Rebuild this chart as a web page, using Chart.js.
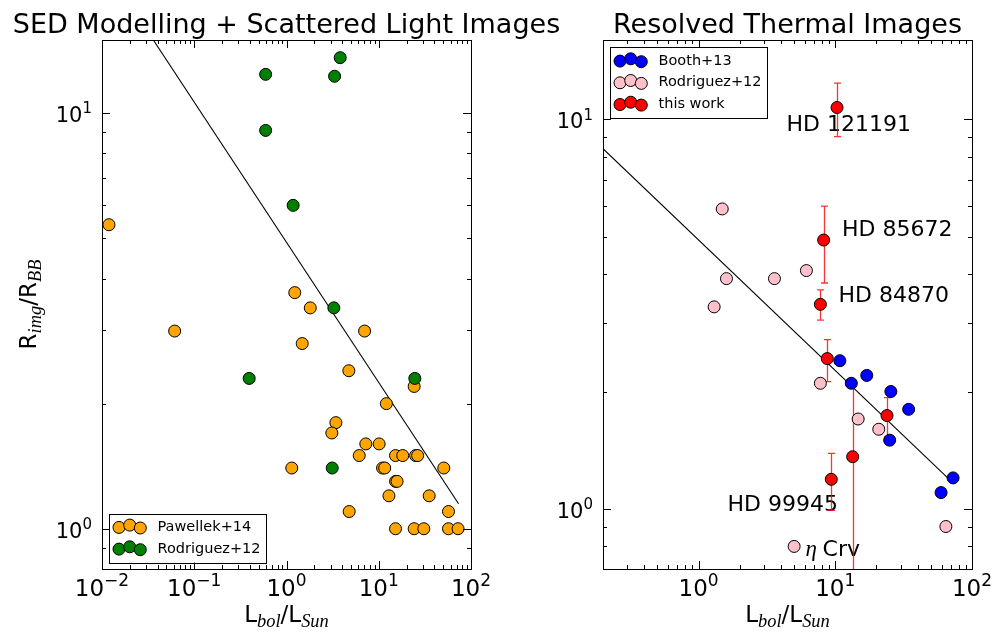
<!DOCTYPE html>
<html>
<head>
<meta charset="utf-8">
<script src="https://cdn.jsdelivr.net/npm/chart.js@4.4.0/dist/chart.umd.min.js"></script>
<style>
  html, body { margin: 0; padding: 0; background: #fff; }
  #wrap { position: relative; width: 992px; height: 632px; }
  .box { position: absolute; top: 0; height: 632px; }
</style>
</head>
<body>
<div id="wrap">
  <div class="box" style="left:0;width:600px"><canvas id="sed"></canvas></div>
  <div class="box" style="left:496px;width:496px"><canvas id="thermal"></canvas></div>
</div>
<script>
// left panel: SED modelling + scattered light
const pawellekL = [0.0119, 0.0613, 1.23, 1.81, 7.02, 1.48, 4.74, 24.2, 12.1, 3.43, 3.10, 7.24, 10.1, 6.14, 15.2, 18.2, 25.1, 26.4, 1.14, 11.0, 11.6, 50.7, 15.2, 15.8, 12.9, 35.2, 4.78, 57.0, 15.2, 24.2, 30.8, 57.0, 72.4];
const pawellekR = [5.39, 2.99, 3.70, 3.40, 2.99, 2.79, 2.40, 2.20, 2.00, 1.80, 1.70, 1.60, 1.60, 1.50, 1.50, 1.50, 1.50, 1.50, 1.40, 1.40, 1.40, 1.40, 1.30, 1.30, 1.20, 1.20, 1.10, 1.10, 1.00, 1.00, 1.00, 1.00, 1.00];
const rodSedL = [0.594, 3.82, 3.32, 0.594, 1.18, 3.26, 0.394, 24.6, 3.13];
const rodSedR = [12.4, 13.6, 12.27, 9.09, 6.0, 3.40, 2.30, 2.30, 1.40];
const sedFitL = [0.036, 73.3];
const sedFitR = [15.0, 1.148];

// right panel: resolved thermal images
const boothL = [10.8, 13.1, 17.0, 25.5, 34.4, 25.0, 72.7, 59.4];
const boothR = [2.40, 2.10, 2.20, 2.00, 1.80, 1.50, 1.20, 1.10];
const rodThL = [1.49, 6.15, 1.60, 3.59, 1.30, 7.78, 14.7, 20.8, 64.4, 5.0];
const rodThR = [5.89, 4.09, 3.90, 3.90, 3.30, 2.10, 1.70, 1.60, 0.90, 0.80];
const workL = [10.3, 8.22, 7.78, 8.74, 23.9, 13.4, 9.35];
const workR = [10.73, 4.90, 3.35, 2.43, 1.735, 1.36, 1.19];
const workLo = [9.03, 3.80, 3.05, 2.12, 1.53, 0.5, 0.99];
const workHi = [12.4, 5.99, 3.65, 2.72, 1.93, 2.06, 1.387];
const thFitL = [0.2, 68.8];
const thFitR = [8.41, 1.186];
const starNames = ['HD 121191', 'HD 85672', 'HD 84870', 'HD 99945', 'η Crv'];
const starNameL = [4.40, 11.19, 10.57, 1.626, 6.05];
const starNameR = [9.34, 5.01, 3.40, 0.984, 0.755];

// ticks
const sedXTicks = [0.01, 0.1, 1, 10, 100];
const sedXTickExp = ['−2', '−1', '0', '1', '2'];
const sedYTicks = [1, 10];
const sedYTickExp = ['0', '1'];
const thXTicks = [1, 10, 100];
const thXTickExp = ['0', '1', '2'];
const thYTicks = [1, 10];
const thYTickExp = ['0', '1'];

const SANS = '"DejaVu Sans", sans-serif';
const SERIF_IT = 'italic {s}px "Liberation Serif", serif';

function pts(xs, ys) {
  return xs.map((x, i) => ({ x: x, y: ys[i] }));
}

function drawPow(ctx, exp, x, y, size, mode) {
  const bf = size + 'px ' + SANS;
  const ef = Math.round(size * 0.72) + 'px ' + SANS;
  ctx.font = bf;
  const bw = ctx.measureText('10').width;
  ctx.font = ef;
  const ew = ctx.measureText(exp).width;
  const left = mode === 'x' ? x - (bw + ew) / 2 : x - bw - ew;
  ctx.textAlign = 'left';
  ctx.textBaseline = 'alphabetic';
  ctx.font = bf;
  ctx.fillText('10', left, y);
  ctx.font = ef;
  ctx.fillText(exp, left + bw, y - size * 0.42);
}

// text with mathtext-like subscripts, parts = [[text, isSub], ...]
function drawMath(ctx, parts, x, y, size) {
  const subSize = size * 0.8;
  const fonts = parts.map(p => p[1] ? SERIF_IT.replace('{s}', subSize.toFixed(1)) : size + 'px ' + SANS);
  let total = 0;
  const widths = parts.map((p, i) => { ctx.font = fonts[i]; const w = ctx.measureText(p[0]).width; total += w; return w; });
  let cx = x - total / 2;
  ctx.textAlign = 'left';
  ctx.textBaseline = 'alphabetic';
  parts.forEach((p, i) => {
    ctx.font = fonts[i];
    ctx.fillText(p[0], cx, p[1] ? y + size * 0.22 : y);
    cx += widths[i];
  });
}

function drawTicks(ctx, scale, area, horizontal) {
  const lo = Math.floor(Math.log10(scale.min)), hi = Math.ceil(Math.log10(scale.max));
  ctx.strokeStyle = '#000';
  ctx.lineWidth = 1;
  ctx.beginPath();
  for (let d = lo; d <= hi; d++) {
    for (let m = 1; m <= 9; m++) {
      const v = m * Math.pow(10, d);
      if (v < scale.min * 0.999 || v > scale.max * 1.001) continue;
      const p = Math.round(scale.getPixelForValue(v)) + 0.5;
      const len = m === 1 ? 8 : 4;
      if (horizontal) {
        ctx.moveTo(p, area.bottom); ctx.lineTo(p, area.bottom - len);
        ctx.moveTo(p, area.top); ctx.lineTo(p, area.top + len);
      } else {
        ctx.moveTo(area.left, p); ctx.lineTo(area.left + len, p);
        ctx.moveTo(area.right, p); ctx.lineTo(area.right - len, p);
      }
    }
  }
  ctx.stroke();
}

function mplPlugin(cfg) {
  return {
    id: 'mpl',
    beforeDatasetsDraw(chart) {
      const ctx = chart.ctx, a = chart.chartArea;
      const xs = chart.scales.x, ys = chart.scales.y;
      ctx.save();
      ctx.beginPath();
      ctx.rect(a.left, a.top, a.right - a.left, a.bottom - a.top);
      ctx.clip();
      (cfg.notes || []).forEach(n => {
        const px = xs.getPixelForValue(n.x), py = ys.getPixelForValue(n.y);
        ctx.fillStyle = '#000';
        ctx.textAlign = 'left';
        ctx.textBaseline = 'alphabetic';
        let t = n.text, cx = px;
        if (t.startsWith('η')) {
          ctx.font = SERIF_IT.replace('{s}', '23');
          ctx.fillText('η', cx, py);
          cx += ctx.measureText('η ').width;
          t = t.slice(2);
        }
        ctx.font = '22px ' + SANS;
        ctx.fillText(t, cx, py);
      });
      if (cfg.errors) {
        const e = cfg.errors;
        ctx.strokeStyle = 'rgba(255,0,0,0.8)';
        ctx.lineWidth = 1.3;
        ctx.beginPath();
        e.x.forEach((xv, i) => {
          const px = Math.round(xs.getPixelForValue(xv)) + 0.5;
          const top = ys.getPixelForValue(e.hi[i]), bot = ys.getPixelForValue(e.lo[i]);
          ctx.moveTo(px, top); ctx.lineTo(px, bot);
          ctx.moveTo(px - 3.5, top); ctx.lineTo(px + 3.5, top);
          ctx.moveTo(px - 3.5, bot); ctx.lineTo(px + 3.5, bot);
        });
        ctx.stroke();
      }
      ctx.restore();
    },
    afterDraw(chart) {
      const ctx = chart.ctx, a = chart.chartArea;
      const xs = chart.scales.x, ys = chart.scales.y;
      ctx.save();
      // frame
      ctx.strokeStyle = '#000';
      ctx.lineWidth = 1;
      ctx.strokeRect(a.left + 0.5, a.top + 0.5, a.right - a.left, a.bottom - a.top);
      drawTicks(ctx, xs, a, true);
      drawTicks(ctx, ys, a, false);
      // tick labels
      ctx.fillStyle = '#000';
      cfg.xTicks.forEach((v, i) => drawPow(ctx, cfg.xExp[i], xs.getPixelForValue(v), a.bottom + 27, 23, 'x'));
      cfg.yTicks.forEach((v, i) => drawPow(ctx, cfg.yExp[i], a.left - 10, ys.getPixelForValue(v) + 9, 21, 'y'));
      // title
      ctx.font = '27px ' + SANS;
      ctx.textAlign = 'center';
      ctx.textBaseline = 'alphabetic';
      ctx.fillText(cfg.title, (a.left + a.right) / 2, 33);
      // axis labels
      drawMath(ctx, [['L', 0], ['bol', 1], ['/L', 0], ['Sun', 1]], (a.left + a.right) / 2, a.bottom + 53, 23);
      if (cfg.yLabel) {
        ctx.save();
        ctx.translate(36, (a.top + a.bottom) / 2);
        ctx.rotate(-Math.PI / 2);
        drawMath(ctx, [['R', 0], ['img', 1], ['/R', 0], ['BB', 1]], 0, 0, 23);
        ctx.restore();
      }
      // legend
      const lg = cfg.legend;
      const bx = a.left + 7, rowH = 21.7, boxH = lg.items.length * rowH + 5.5;
      const by = lg.loc === 'lower' ? a.bottom - 6.5 - boxH : a.top + 7.3;
      ctx.fillStyle = '#fff';
      ctx.fillRect(bx, by, 157, boxH);
      ctx.strokeStyle = '#000';
      ctx.strokeRect(Math.round(bx) + 0.5, Math.round(by) + 0.5, 157, Math.round(boxH));
      const offs = [0.8, -1.5, 1.4];
      lg.items.forEach((it, r) => {
        const cy = by + 13 + r * rowH;
        [10, 20.7, 31.3].forEach((dx, k) => {
          ctx.beginPath();
          ctx.arc(bx + dx, cy + offs[k], 6, 0, Math.PI * 2);
          ctx.fillStyle = it.color;
          ctx.fill();
          ctx.strokeStyle = '#000';
          ctx.lineWidth = 1;
          ctx.stroke();
        });
        ctx.fillStyle = '#000';
        ctx.font = '14.5px ' + SANS;
        ctx.textAlign = 'left';
        ctx.textBaseline = 'middle';
        ctx.fillText(it.label, bx + 48.5, cy + 0.5);
      });
      ctx.restore();
    }
  };
}

function scatterSet(label, xs, ys, color, order) {
  return {
    label: label, data: pts(xs, ys), order: order,
    backgroundColor: color, borderColor: '#000', borderWidth: 1,
    pointRadius: 6, pointHoverRadius: 6
  };
}

function fitSet(xs, ys) {
  return {
    label: 'fit', data: pts(xs, ys), order: 9, showLine: true,
    borderColor: '#000', borderWidth: 1.1, pointRadius: 0, fill: false
  };
}

function makeChart(id, datasets, xr, yr, rightPad, yWidth, cfg) {
  return new Chart(document.getElementById(id), {
    type: 'scatter',
    data: { datasets: datasets },
    options: {
      responsive: true,
      maintainAspectRatio: false,
      animation: false,
      layout: { padding: { top: 40, left: 0, right: rightPad, bottom: 0 } },
      plugins: { legend: { display: false }, tooltip: { enabled: false }, title: { display: false } },
      scales: {
        x: {
          type: 'logarithmic', min: xr[0], max: xr[1],
          ticks: { display: false }, grid: { display: false }, border: { display: false },
          afterFit: s => { s.height = 63; }
        },
        y: {
          type: 'logarithmic', min: yr[0], max: yr[1],
          ticks: { display: false }, grid: { display: false }, border: { display: false },
          afterFit: s => { s.width = yWidth; }
        }
      }
    },
    plugins: [mplPlugin(cfg)]
  });
}

makeChart('sed', [
  fitSet(sedFitL, sedFitR),
  scatterSet('Pawellek+14', pawellekL, pawellekR, '#FFA500', 3),
  scatterSet('Rodriguez+12', rodSedL, rodSedR, '#008000', 2)
], [0.01, 100], [0.8, 15], 129, 102, {
  title: 'SED Modelling + Scattered Light Images',
  xTicks: sedXTicks, xExp: sedXTickExp, yTicks: sedYTicks, yExp: sedYTickExp,
  yLabel: true,
  legend: { loc: 'lower', items: [{ label: 'Pawellek+14', color: '#FFA500' }, { label: 'Rodriguez+12', color: '#008000' }] }
});

makeChart('thermal', [
  fitSet(thFitL, thFitR),
  scatterSet('Booth+13', boothL, boothR, '#0000FF', 4),
  scatterSet('Rodriguez+12', rodThL, rodThR, '#FFC0CB', 3),
  scatterSet('this work', workL, workR, '#FF0000', 1)
], [0.2, 100], [0.7, 16], 20, 107, {
  title: 'Resolved Thermal Images',
  xTicks: thXTicks, xExp: thXTickExp, yTicks: thYTicks, yExp: thYTickExp,
  yLabel: false,
  errors: { x: workL, lo: workLo, hi: workHi },
  notes: starNames.map((t, i) => ({ text: t, x: starNameL[i], y: starNameR[i] })),
  legend: { loc: 'upper', items: [
    { label: 'Booth+13', color: '#0000FF' },
    { label: 'Rodriguez+12', color: '#FFC0CB' },
    { label: 'this work', color: '#FF0000' }
  ] }
});
</script>
</body>
</html>
